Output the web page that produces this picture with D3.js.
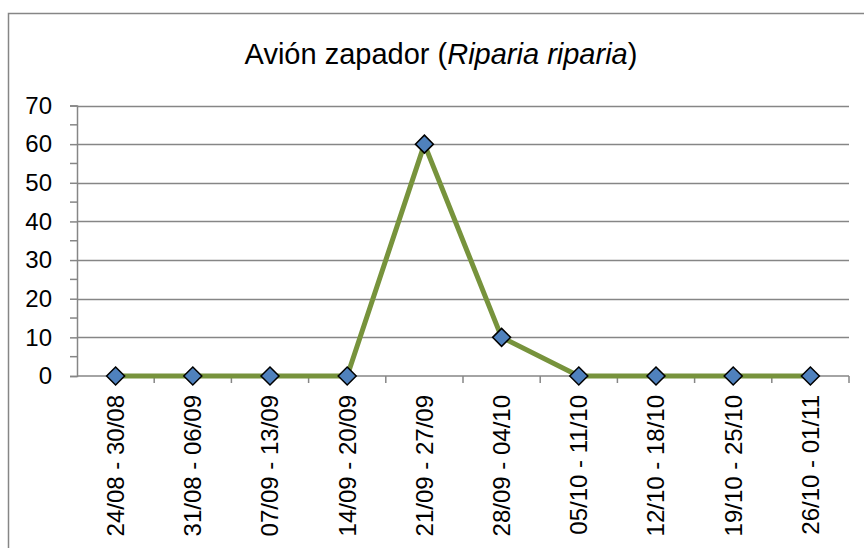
<!DOCTYPE html>
<html>
<head>
<meta charset="utf-8">
<script src="https://cdn.jsdelivr.net/npm/d3@7"></script>
<style>
  body { margin: 0; background: #fff; }
  svg { display: block; }
</style>
</head>
<body>
<div id="chart"></div>
<script>
// weekly counts
var weeks = ["24/08 - 30/08", "31/08 - 06/09", "07/09 - 13/09", "14/09 - 20/09", "21/09 - 27/09",
  "28/09 - 04/10", "05/10 - 11/10", "12/10 - 18/10", "19/10 - 25/10", "26/10 - 01/11"];
var counts = [0, 0, 0, 0, 60, 10, 0, 0, 0, 0];
var yTicks = [0, 10, 20, 30, 40, 50, 60, 70];
var yMinorTicks = [5, 15, 25, 35, 45, 55, 65];

var width = 864, height = 548;
var plot = { left: 77, right: 849, top: 105.5, bottom: 376 };
var axisColor = "#868686";
var font = "'Liberation Sans', Arial, sans-serif";

var svg = d3.select("#chart").append("svg")
  .attr("width", width)
  .attr("height", height);

// outer chart frame (cropped on right and bottom)
svg.append("rect")
  .attr("x", 8.5).attr("y", 13.5)
  .attr("width", 900).attr("height", 600)
  .attr("fill", "none")
  .attr("stroke", axisColor)
  .attr("stroke-width", 1.5);

// title
var title = svg.append("text")
  .attr("x", 441)
  .attr("y", 64)
  .attr("text-anchor", "middle")
  .style("font-family", font)
  .style("font-size", "29px")
  .style("fill", "#000");
title.append("tspan").text("Avión zapador (");
title.append("tspan").style("font-style", "italic").text("Riparia riparia");
title.append("tspan").text(")");

var x = d3.scaleBand()
  .domain(weeks)
  .range([plot.left, plot.right]);

var y = d3.scaleLinear()
  .domain([0, 70])
  .range([plot.bottom, plot.top]);

// gridlines
svg.append("g")
  .selectAll("line")
  .data(yTicks.filter(function(d) { return d > 0; }))
  .enter()
  .append("line")
  .attr("x1", plot.left).attr("x2", plot.right)
  .attr("y1", function(d) { return Math.round(y(d)) + 0.5; })
  .attr("y2", function(d) { return Math.round(y(d)) + 0.5; })
  .attr("stroke", axisColor)
  .attr("stroke-width", 1.5);

// y axis
var yAxis = svg.append("g")
  .attr("transform", "translate(" + plot.left + ",0)")
  .call(d3.axisLeft(y).tickValues(yTicks).tickSize(7).tickPadding(18));
yAxis.select(".domain").attr("stroke", axisColor).attr("stroke-width", 1.5);
yAxis.selectAll(".tick line").attr("stroke", axisColor).attr("stroke-width", 1.5);
yAxis.selectAll("text")
  .style("font-family", font)
  .style("font-size", "24px")
  .attr("fill", "#000");

// minor ticks
svg.append("g")
  .selectAll("line")
  .data(yMinorTicks)
  .enter()
  .append("line")
  .attr("x1", plot.left - 7).attr("x2", plot.left)
  .attr("y1", function(d) { return y(d); })
  .attr("y2", function(d) { return y(d); })
  .attr("stroke", axisColor)
  .attr("stroke-width", 1.5);

// x axis: ticks between categories
var xAxis = svg.append("g");
xAxis.append("line")
  .attr("x1", plot.left).attr("x2", plot.right)
  .attr("y1", plot.bottom).attr("y2", plot.bottom)
  .attr("stroke", axisColor)
  .attr("stroke-width", 1.5);
xAxis.selectAll(".xtick")
  .data(weeks.slice(1).concat(["end"]))
  .enter()
  .append("line")
  .attr("class", "xtick")
  .attr("x1", function(d, i) { return x(weeks[0]) + x.step() * (i + 1); })
  .attr("x2", function(d, i) { return x(weeks[0]) + x.step() * (i + 1); })
  .attr("y1", plot.bottom).attr("y2", plot.bottom + 7)
  .attr("stroke", axisColor)
  .attr("stroke-width", 1.5);
xAxis.selectAll("text")
  .data(weeks)
  .enter()
  .append("text")
  .attr("transform", function(d) {
    return "translate(" + (x(d) + x.bandwidth() / 2) + "," + (plot.bottom + 19) + ") rotate(-90)";
  })
  .attr("text-anchor", "end")
  .attr("dy", "0.35em")
  .style("font-family", font)
  .style("font-size", "24px")
  .style("fill", "#000")
  .text(function(d) { return d; });

// series line
var line = d3.line()
  .x(function(d, i) { return x(weeks[i]) + x.bandwidth() / 2; })
  .y(function(d) { return y(d); });

svg.append("path")
  .datum(counts)
  .attr("d", line)
  .attr("fill", "none")
  .attr("stroke", "#77933c")
  .attr("stroke-width", 5)
  .attr("stroke-linejoin", "round");

// diamond markers
svg.append("g")
  .selectAll("path")
  .data(counts)
  .enter()
  .append("path")
  .attr("d", "M0,-9L9,0L0,9L-9,0Z")
  .attr("transform", function(d, i) {
    return "translate(" + (x(weeks[i]) + x.bandwidth() / 2) + "," + y(d) + ")";
  })
  .attr("fill", "#4f81bd")
  .attr("stroke", "#000")
  .attr("stroke-width", 1.5);
</script>
</body>
</html>
